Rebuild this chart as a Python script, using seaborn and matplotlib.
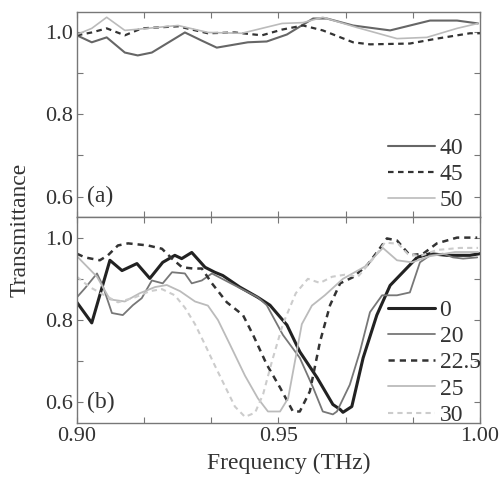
import numpy as np
import pandas as pd
import seaborn as sns
import matplotlib
matplotlib.use("Agg")
import matplotlib.pyplot as plt

# ===== DATA =====
# panel (a): angles 40, 45, 50
f_a40 = [0.900, 0.9037, 0.9074, 0.9119, 0.9151, 0.9186, 0.9268, 0.9310, 0.9347, 0.9424,
         0.9471, 0.9521, 0.9586, 0.9620, 0.9685, 0.9777, 0.9876, 0.9943, 0.9995]
t_a40 = [0.993, 0.976, 0.988, 0.951, 0.944, 0.951, 1.000, 0.980, 0.963, 0.976,
         0.978, 0.995, 1.034, 1.034, 1.017, 1.005, 1.029, 1.029, 1.022]

f_a45 = [0.900, 0.9037, 0.9074, 0.9119, 0.9161, 0.9251, 0.9325, 0.9392, 0.9459, 0.9509,
         0.9561, 0.9610, 0.9685, 0.9727, 0.9826, 0.9893, 0.9975, 1.000]
t_a45 = [0.993, 1.000, 1.010, 0.993, 1.010, 1.015, 0.998, 1.000, 0.993, 1.007,
         1.017, 1.005, 0.976, 0.971, 0.973, 0.985, 0.998, 0.998]

f_a50 = [0.900, 0.9037, 0.9074, 0.9119, 0.9251, 0.9325, 0.9409, 0.9509, 0.9561, 0.9610,
         0.9695, 0.9794, 0.9868, 0.9943, 0.9995]
t_a50 = [0.995, 1.010, 1.037, 1.005, 1.017, 1.000, 0.998, 1.022, 1.024, 1.037,
         1.012, 0.985, 0.988, 1.010, 1.022]

# panel (b): angles 0, 20, 22.5, 25, 30
f_b0 = [0.900, 0.9037, 0.9082, 0.9112, 0.9149, 0.9181, 0.9213, 0.9243, 0.9260, 0.9285,
        0.9318, 0.9342, 0.9362, 0.9404, 0.9449, 0.9479, 0.9521, 0.9553, 0.9596, 0.9635,
        0.9653, 0.9660, 0.9682, 0.9710, 0.9744, 0.9777, 0.9844, 0.9876, 0.9918, 0.9975, 1.000]
t_b0 = [0.843, 0.793, 0.945, 0.920, 0.937, 0.901, 0.940, 0.957, 0.949, 0.964,
        0.928, 0.916, 0.908, 0.880, 0.855, 0.836, 0.788, 0.723, 0.660, 0.595,
        0.583, 0.576, 0.590, 0.708, 0.812, 0.884, 0.952, 0.961, 0.957, 0.957, 0.961]

f_b20 = [0.900, 0.9020, 0.9050, 0.9064, 0.9087, 0.9114, 0.9139, 0.9161, 0.9186, 0.9213,
         0.9236, 0.9268, 0.9285, 0.9310, 0.9335, 0.9380, 0.9449, 0.9471, 0.9511, 0.9553,
         0.9586, 0.9610, 0.9635, 0.9645, 0.9677, 0.9702, 0.9727, 0.9757, 0.9794, 0.9826,
         0.9851, 0.9876, 0.9908, 0.9933, 0.9958, 0.9993]
t_b20 = [0.855, 0.877, 0.913, 0.884, 0.817, 0.812, 0.836, 0.853, 0.896, 0.889,
         0.916, 0.913, 0.889, 0.896, 0.913, 0.890, 0.855, 0.836, 0.764, 0.708,
         0.636, 0.578, 0.571, 0.578, 0.643, 0.723, 0.819, 0.860, 0.860, 0.867,
         0.940, 0.957, 0.961, 0.952, 0.949, 0.952]

f_b225 = [0.900, 0.9020, 0.9057, 0.9077, 0.9102, 0.9127, 0.9176, 0.9211, 0.9236, 0.9261,
          0.9288, 0.9310, 0.9335, 0.9372, 0.9412, 0.9437, 0.9471, 0.9504, 0.9536, 0.9553,
          0.9578, 0.9603, 0.9628, 0.9653, 0.9685, 0.9720, 0.9744, 0.9769, 0.9794, 0.9826,
          0.9859, 0.9893, 0.9943, 0.9993]
t_b225 = [0.961, 0.952, 0.945, 0.957, 0.981, 0.986, 0.981, 0.973, 0.949, 0.928,
          0.925, 0.925, 0.889, 0.843, 0.812, 0.764, 0.692, 0.636, 0.578, 0.578,
          0.627, 0.747, 0.836, 0.889, 0.904, 0.933, 0.964, 0.998, 0.993, 0.957,
          0.961, 0.986, 1.000, 1.000]

f_b25 = [0.900, 0.9020, 0.9050, 0.9082, 0.9119, 0.9156, 0.9194, 0.9223, 0.9256, 0.9293,
         0.9325, 0.9350, 0.9380, 0.9417, 0.9449, 0.9474, 0.9504, 0.9524, 0.9541, 0.9558,
         0.9583, 0.9615, 0.9660, 0.9715, 0.9759, 0.9794, 0.9831, 0.9876, 0.9938, 0.9995]
t_b25 = [0.955, 0.935, 0.905, 0.850, 0.845, 0.865, 0.880, 0.885, 0.870, 0.845,
         0.835, 0.800, 0.740, 0.665, 0.610, 0.578, 0.578, 0.610, 0.700, 0.790,
         0.835, 0.860, 0.900, 0.930, 0.975, 0.945, 0.940, 0.955, 0.965, 0.965]

f_b30 = [0.900, 0.9032, 0.9069, 0.9102, 0.9144, 0.9181, 0.9211, 0.9243, 0.9268, 0.9293,
         0.9318, 0.9342, 0.9367, 0.9392, 0.9417, 0.9442, 0.9462, 0.9484, 0.9511, 0.9543,
         0.9573, 0.9603, 0.9633, 0.9665, 0.9697, 0.9732, 0.9764, 0.9797, 0.9821, 0.9851,
         0.9893, 0.9950, 0.9995]
t_b30 = [0.905, 0.880, 0.860, 0.843, 0.855, 0.870, 0.875, 0.860, 0.830, 0.790,
         0.740, 0.690, 0.640, 0.590, 0.565, 0.575, 0.620, 0.700, 0.790, 0.865,
         0.900, 0.890, 0.905, 0.910, 0.905, 0.945, 0.988, 0.985, 0.960, 0.955,
         0.970, 0.975, 0.975]

x_ticks = [0.90, 0.9167, 0.9333, 0.95, 0.9667, 0.9833, 1.00]
x_labels = ["0.90", "", "", "0.95", "", "", "1.00"]
y_ticks = [0.6, 0.7, 0.8, 0.9, 1.0]
y_labels = ["0.6", "", "0.8", "", "1.0"]

# ===== STYLE =====
sns.set_theme(style="ticks")
plt.rcParams["font.family"] = ["Liberation Serif", "DejaVu Serif"]
plt.rcParams["axes.edgecolor"] = "#777777"
plt.rcParams["xtick.color"] = "#777777"
plt.rcParams["ytick.color"] = "#777777"
plt.rcParams["xtick.labelcolor"] = "#333333"
plt.rcParams["ytick.labelcolor"] = "#333333"
FS_TICK = 16
FS_LEG = 17
FS_LAB = 17

fig = plt.figure(figsize=(4.99, 4.78), dpi=100)
ax_a = fig.add_axes([0.154, 0.546, 0.808, 0.429])
ax_b = fig.add_axes([0.154, 0.115, 0.808, 0.431])

series_a = [
    (f_a40, t_a40, "40", dict(color="#666666", lw=1.5, ls="-")),
    (f_a45, t_a45, "45", dict(color="#333333", lw=1.6, ls=(0, (2.5, 2)))),
    (f_a50, t_a50, "50", dict(color="#bbbbbb", lw=1.2, ls="-")),
]
series_b = [
    (f_b0, t_b0, "0", dict(color="#222222", lw=2.2, ls="-")),
    (f_b20, t_b20, "20", dict(color="#777777", lw=1.3, ls="-")),
    (f_b225, t_b225, "22.5", dict(color="#333333", lw=1.8, ls=(0, (2.5, 2)))),
    (f_b25, t_b25, "25", dict(color="#bbbbbb", lw=1.3, ls="-")),
    (f_b30, t_b30, "30", dict(color="#cccccc", lw=1.5, ls=(0, (2.5, 2)))),
]

for ax, series, leg_y in [(ax_a, series_a, 0.016), (ax_b, series_b, -0.025)]:
    for f, t, lab, kw in series:
        sns.lineplot(x=f, y=t, ax=ax, label=lab, color=kw["color"],
                     linewidth=kw["lw"], linestyle=kw["ls"])
    ax.set_xlim(0.90, 1.00)
    ax.set_ylim(0.55, 1.05)
    ax.set_xticks(x_ticks)
    ax.set_yticks(y_ticks)
    ax.set_yticklabels(y_labels, fontsize=FS_TICK)
    ax.tick_params(direction="in", length=4, width=0.8, top=True, right=True, pad=3)
    ax.set_xlabel("")
    ax.set_ylabel("")
    for sp in ax.spines.values():
        sp.set_linewidth(1.0)
    leg = ax.legend(loc="lower left", bbox_to_anchor=(0.765, leg_y), frameon=False,
                    fontsize=FS_LEG, handlelength=2.0, handletextpad=0.2,
                    labelspacing=0.2, borderpad=0.1, borderaxespad=0.0)
    for txt in leg.get_texts():
        txt.set_color("#333333")

ax_a.set_xticklabels([])
ax_b.set_xticklabels(x_labels, fontsize=FS_TICK)

ax_a.text(0.9025, 0.6, "(a)", fontsize=FS_LEG, color="#333333", va="center")
ax_b.text(0.9025, 0.6, "(b)", fontsize=FS_LEG, color="#333333", va="center")

fig.text(0.04, 0.519, "Transmittance", rotation=90, fontsize=FS_LAB,
         color="#333333", ha="center", va="center")
fig.text(0.579, 0.031, "Frequency (THz)", fontsize=FS_LAB, color="#333333",
         ha="center", va="center")

fig.savefig("out.png", dpi=100)
plt.close(fig)
